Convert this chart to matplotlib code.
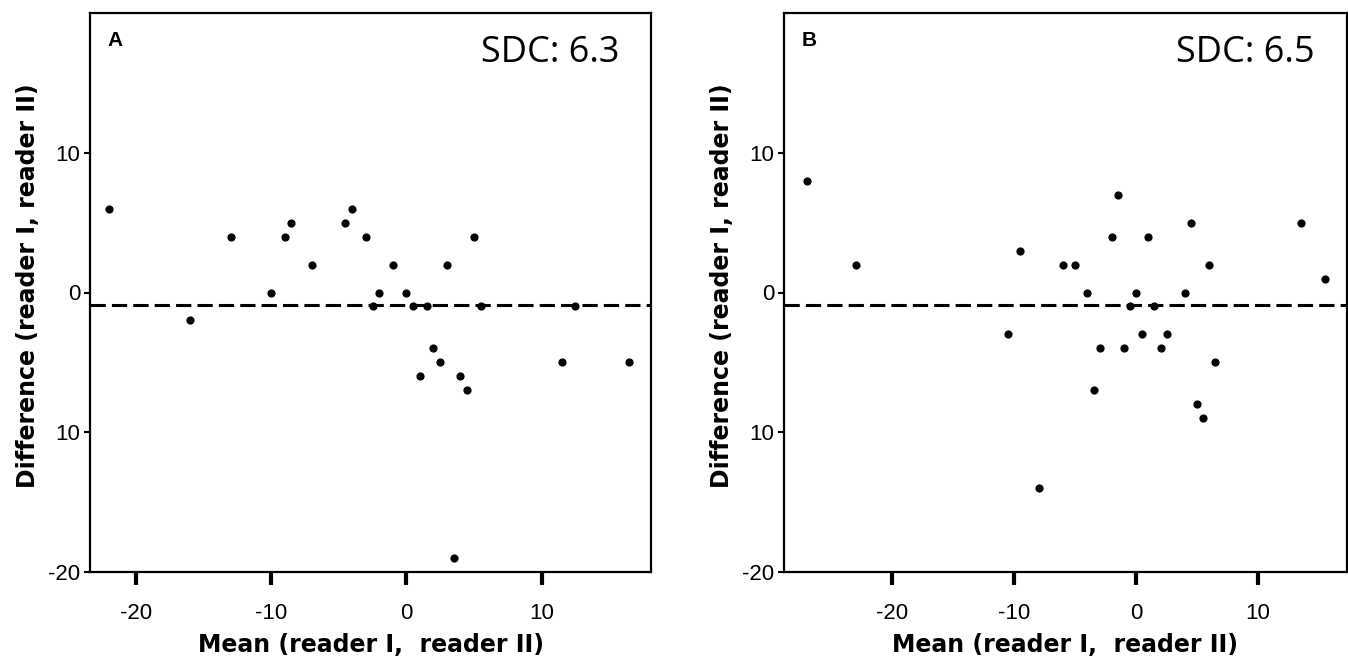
import matplotlib
matplotlib.use("Agg")
import matplotlib.pyplot as plt

# panel A: mean vs difference of the two readers
a_mean = [-22, -16, -13, -10, -9, -8.5, -7, -4.5, -4, -3, -2.5, -2, -1, 0, 0.5, 1.5,
          1, 2, 2.5, 3, 3.5, 4, 4.5, 5, 5.5, 11.5, 12.5, 16.5]
a_diff = [6, -2, 4, 0, 4, 5, 2, 5, 6, 4, -1, 0, 2, 0, -1, -1,
          -6, -4, -5, 2, -19, -6, -7, 4, -1, -5, -1, -5]
a_bias = -0.9
a_sdc = "SDC: 6.3"

# panel B
b_mean = [-27, -23, -10.5, -9.5, -8, -6, -5, -4, -3.5, -3, -2, -1.5, -1, -0.5, 0, 0.5,
          1, 1.5, 2, 2.5, 4, 4.5, 5, 5.5, 6, 6.5, 13.5, 15.5]
b_diff = [8, 2, -3, 3, -14, 2, 2, 0, -7, -4, 4, 7, -4, -1, 0, -3,
          4, -1, -4, -3, 0, 5, -8, -9, 2, -5, 5, 1]
b_bias = -0.9
b_sdc = "SDC: 6.5"

y_ticks = [10, 0, -10, -20]
y_labels = ["10", "0", "10", "-20"]
x_ticks = [-20, -10, 0, 10]
x_labels = ["-20", "-10", "0", "10"]

W, H = 1348, 668
fig = plt.figure(figsize=(W / 100, H / 100), dpi=100)

def panel(rect, mean, diff, bias, sdc, letter, xlim):
    ax = fig.add_axes(rect)
    ax.scatter(mean, diff, s=24, color="black", zorder=3)
    ax.axhline(bias, color="black", lw=2.2, dashes=(5, 2), zorder=2)
    ax.set_xlim(*xlim)
    ax.set_ylim(-20, 20)
    ax.set_yticks(y_ticks)
    ax.set_yticklabels(y_labels, fontfamily="Liberation Sans", fontsize=16)
    ax.set_xticks(x_ticks)
    ax.set_xticklabels(x_labels, fontfamily="Liberation Sans", fontsize=16)
    ax.tick_params(axis="x", direction="out", length=9, width=3, pad=13)
    ax.tick_params(axis="y", direction="out", length=4, width=1.5, pad=3)
    for sp in ax.spines.values():
        sp.set_linewidth(1.6)
    ax.set_xlabel("Mean (reader I,  reader II)", fontfamily="DejaVu Sans",
                  fontweight="bold", fontsize=17)
    ax.set_ylabel("Difference (reader I, reader II)", fontfamily="DejaVu Sans",
                  fontweight="bold", fontsize=17)
    ax.xaxis.label.set_va("center")
    ax.yaxis.label.set_va("center")
    ax.xaxis.set_label_coords(0.5, -(645 - 572) / 559)
    ax.yaxis.set_label_coords(-62 / 561, 0.513)
    ax.text(0.032, 0.951, letter, transform=ax.transAxes, fontfamily="Liberation Sans",
            fontweight="bold", fontsize=15, va="center", ha="left")
    ax.text(0.943, 0.928, sdc, transform=ax.transAxes, fontfamily="Open Sans",
            fontsize=26, va="center", ha="right")
    return ax

panel([90 / W, 1 - 572 / H, 561 / W, 559 / H], a_mean, a_diff, a_bias, a_sdc, "A",
      (-23.4, 18.1))
panel([784 / W, 1 - 572 / H, 563 / W, 559 / H], b_mean, b_diff, b_bias, b_sdc, "B",
      (-28.9, 17.3))

fig.savefig("out.png", dpi=100)
